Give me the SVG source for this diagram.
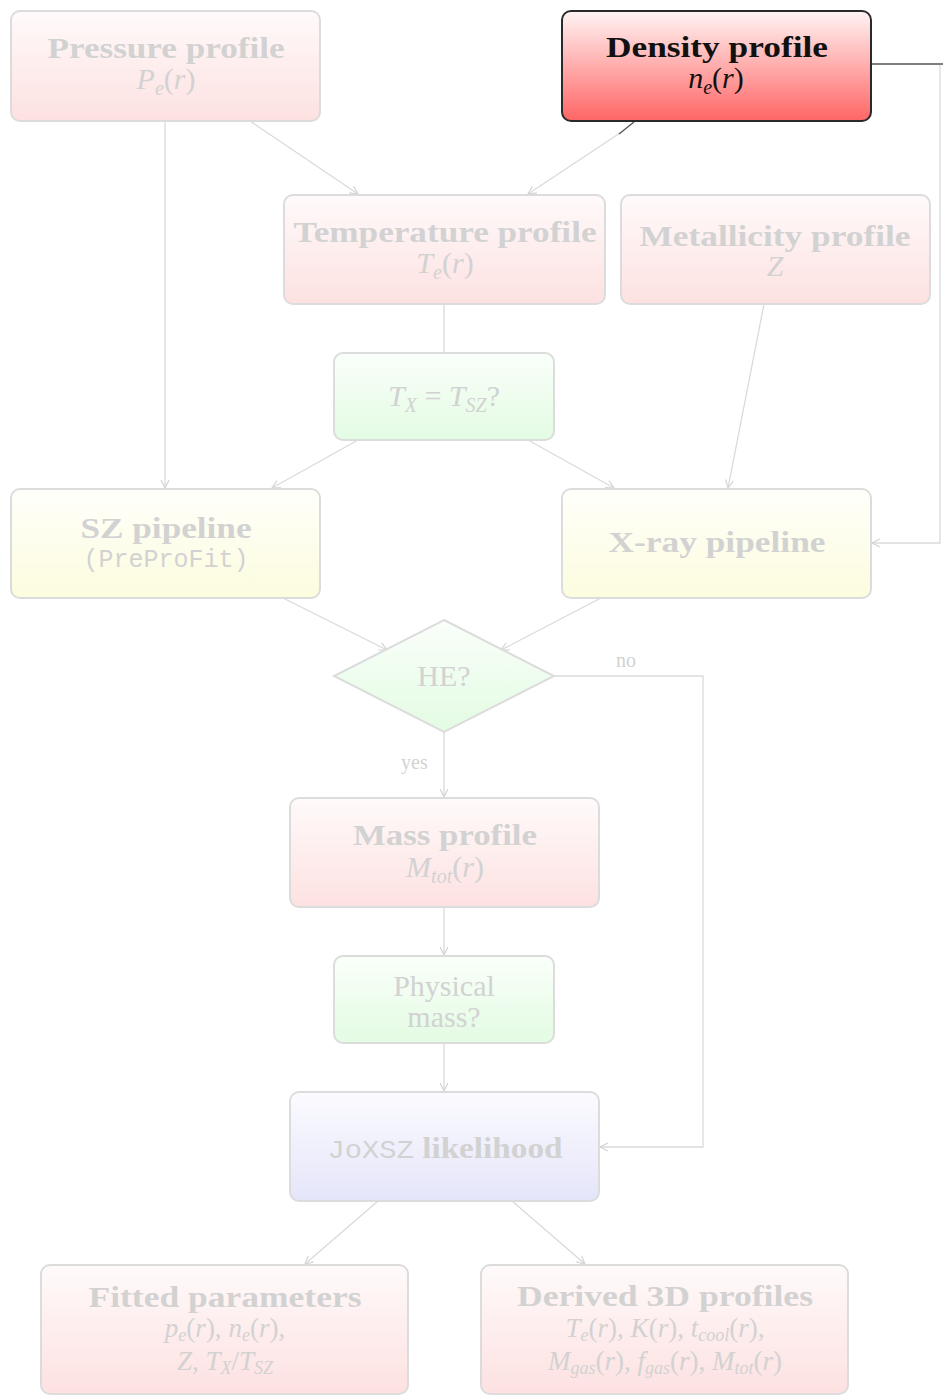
<svg xmlns="http://www.w3.org/2000/svg" width="943" height="1396" viewBox="0 0 943 1396">
<defs>
<linearGradient id="gRed" x1="0" y1="0" x2="0" y2="1"><stop offset="0" stop-color="#fffafa"/><stop offset="1" stop-color="#fde1e1"/></linearGradient>
<linearGradient id="gRedHi" x1="0" y1="0" x2="0" y2="1"><stop offset="0" stop-color="#fff4f4"/><stop offset="1" stop-color="#ff6565"/></linearGradient>
<linearGradient id="gGreen" x1="0" y1="0" x2="0" y2="1"><stop offset="0" stop-color="#fafffa"/><stop offset="1" stop-color="#e3fbe3"/></linearGradient>
<linearGradient id="gYellow" x1="0" y1="0" x2="0" y2="1"><stop offset="0" stop-color="#fffffb"/><stop offset="1" stop-color="#fcfcde"/></linearGradient>
<linearGradient id="gBlue" x1="0" y1="0" x2="0" y2="1"><stop offset="0" stop-color="#fbfbff"/><stop offset="1" stop-color="#e5e5fa"/></linearGradient>
<marker id="arr" viewBox="0 0 10 10" refX="9" refY="5" markerWidth="10" markerHeight="10" markerUnits="userSpaceOnUse" orient="auto">
<path d="M1,1 L9,5 L1,9" fill="none" stroke="#d4d4d4" stroke-width="1.2"/>
</marker>
</defs>
<style>
.box{stroke:#dcdcdc;stroke-width:2}
.hi{stroke:#2a2a2a;stroke-width:2}
.t{font-family:"Liberation Serif","DejaVu Serif",serif;font-weight:bold;font-size:30px;fill:#d2d2d2;text-anchor:middle}
.m{font-family:"Liberation Serif","DejaVu Serif",serif;font-style:italic;font-size:30px;fill:#d2d2d2;text-anchor:middle}
.m2{font-family:"Liberation Serif","DejaVu Serif",serif;font-style:italic;font-size:27px;fill:#d2d2d2;text-anchor:middle}
.r{font-family:"Liberation Serif","DejaVu Serif",serif;font-size:30px;fill:#d2d2d2;text-anchor:middle}
.pp{font-family:"Liberation Mono","DejaVu Sans Mono",monospace;font-size:25px;fill:#d2d2d2;text-anchor:middle}
.mono{font-family:"Liberation Mono","DejaVu Sans Mono",monospace;font-weight:normal}
.lbl{font-family:"Liberation Serif","DejaVu Serif",serif;font-size:20px;fill:#d2d2d2}
.dark{fill:#111111}
.c{fill:none;stroke:#dadada;stroke-width:1.3}
.up{font-style:normal}
</style>
<rect width="943" height="1396" fill="#ffffff"/>
<g id="connectors">
<line class="c" x1="165" y1="121" x2="165" y2="488" marker-end="url(#arr)"/>
<line class="c" x1="250" y1="121" x2="358" y2="194" marker-end="url(#arr)"/>
<line class="c" x1="620" y1="133" x2="528" y2="194" marker-end="url(#arr)"/>
<line x1="634" y1="122" x2="619" y2="134" stroke="#555" stroke-width="1.5"/>
<line class="c" x1="444" y1="304" x2="444" y2="353"/>
<line class="c" x1="764" y1="304" x2="728" y2="488" marker-end="url(#arr)"/>
<line class="c" x1="358" y1="440" x2="272" y2="488" marker-end="url(#arr)"/>
<line class="c" x1="528" y1="440" x2="614" y2="488" marker-end="url(#arr)"/>
<line x1="871" y1="64" x2="943" y2="64" stroke="#555" stroke-width="1.5"/>
<polyline class="c" points="940,65 940,543 872,543" marker-end="url(#arr)"/>
<line class="c" x1="283" y1="598" x2="387" y2="650" marker-end="url(#arr)"/>
<line class="c" x1="601" y1="598" x2="501" y2="650" marker-end="url(#arr)"/>
<polyline class="c" points="554,676 703,676 703,1147 600,1147" marker-end="url(#arr)"/>
<line class="c" x1="444" y1="732" x2="444" y2="797" marker-end="url(#arr)"/>
<line class="c" x1="444" y1="907" x2="444" y2="955" marker-end="url(#arr)"/>
<line class="c" x1="444" y1="1043" x2="444" y2="1091" marker-end="url(#arr)"/>
<line class="c" x1="378" y1="1201" x2="305" y2="1264" marker-end="url(#arr)"/>
<line class="c" x1="512" y1="1201" x2="585" y2="1264" marker-end="url(#arr)"/>
<text class="lbl" x="616" y="667">no</text>
<text class="lbl" x="401" y="769">yes</text>
</g>
<g id="pressure">
<rect class="box" x="11" y="11" width="309" height="110" rx="9" fill="url(#gRed)"/>
<text class="t" x="166" y="58" textLength="237" lengthAdjust="spacingAndGlyphs">Pressure profile</text>
<text class="m" x="166" y="89">P<tspan font-size="20" dy="6">e</tspan><tspan class="up" dy="-6">(</tspan>r<tspan class="up">)</tspan></text>
</g>
<g id="density">
<rect class="hi" x="562" y="11" width="309" height="110" rx="9" fill="url(#gRedHi)"/>
<text class="t dark" x="717" y="57" textLength="222" lengthAdjust="spacingAndGlyphs">Density profile</text>
<text class="m dark" x="716" y="88">n<tspan font-size="20" dy="6">e</tspan><tspan class="up" dy="-6">(</tspan>r<tspan class="up">)</tspan></text>
</g>
<g id="temperature">
<rect class="box" x="284" y="195" width="321" height="109" rx="9" fill="url(#gRed)"/>
<text class="t" x="445" y="242" textLength="303" lengthAdjust="spacingAndGlyphs">Temperature profile</text>
<text class="m" x="445" y="273">T<tspan font-size="20" dy="6">e</tspan><tspan class="up" dy="-6">(</tspan>r<tspan class="up">)</tspan></text>
</g>
<g id="metallicity">
<rect class="box" x="621" y="195" width="309" height="109" rx="9" fill="url(#gRed)"/>
<text class="t" x="775" y="246" textLength="271" lengthAdjust="spacingAndGlyphs">Metallicity profile</text>
<text class="m" x="775" y="276">Z</text>
</g>
<g id="txtsz">
<rect class="box" x="334" y="353" width="220" height="87" rx="9" fill="url(#gGreen)"/>
<text class="m" x="444" y="406">T<tspan font-size="20" dy="6">X</tspan><tspan class="up" dy="-6"> = </tspan>T<tspan font-size="20" dy="6">SZ</tspan><tspan class="up" dy="-6">?</tspan></text>
</g>
<g id="sz">
<rect class="box" x="11" y="489" width="309" height="109" rx="9" fill="url(#gYellow)"/>
<text class="t" x="166" y="538" textLength="171" lengthAdjust="spacingAndGlyphs">SZ pipeline</text>
<text class="pp" x="166" y="567">(PreProFit)</text>
</g>
<g id="xray">
<rect class="box" x="562" y="489" width="309" height="109" rx="9" fill="url(#gYellow)"/>
<text class="t" x="717" y="552" textLength="217" lengthAdjust="spacingAndGlyphs">X-ray pipeline</text>
</g>
<g id="he">
<polygon class="box" points="444,620 554,676 444,732 334,676" fill="url(#gGreen)"/>
<text class="r" x="444" y="686">HE?</text>
</g>
<g id="mass">
<rect class="box" x="290" y="798" width="309" height="109" rx="9" fill="url(#gRed)"/>
<text class="t" x="445" y="845" textLength="184" lengthAdjust="spacingAndGlyphs">Mass profile</text>
<text class="m" x="445" y="877">M<tspan font-size="20" dy="6">tot</tspan><tspan class="up" dy="-6">(</tspan>r<tspan class="up">)</tspan></text>
</g>
<g id="physical">
<rect class="box" x="334" y="956" width="220" height="87" rx="9" fill="url(#gGreen)"/>
<text class="r" x="444" y="996">Physical</text>
<text class="r" x="444" y="1027">mass?</text>
</g>
<g id="joxsz">
<rect class="box" x="290" y="1092" width="309" height="109" rx="9" fill="url(#gBlue)"/>
<text class="t" x="445" y="1158" textLength="235" lengthAdjust="spacingAndGlyphs"><tspan class="mono" font-size="26">JoXSZ</tspan> likelihood</text>
</g>
<g id="fitted">
<rect class="box" x="41" y="1265" width="367" height="129" rx="9" fill="url(#gRed)"/>
<text class="t" x="225" y="1307" textLength="273" lengthAdjust="spacingAndGlyphs">Fitted parameters</text>
<text class="m2" x="225" y="1337">p<tspan font-size="18" dy="4">e</tspan><tspan class="up" dy="-4">(</tspan>r<tspan class="up">), </tspan>n<tspan font-size="18" dy="4">e</tspan><tspan class="up" dy="-4">(</tspan>r<tspan class="up">),</tspan></text>
<text class="m2" x="225" y="1370">Z<tspan class="up">, </tspan>T<tspan font-size="18" dy="4">X</tspan><tspan class="up" dy="-4">/</tspan>T<tspan font-size="18" dy="4">SZ</tspan></text>
</g>
<g id="derived">
<rect class="box" x="481" y="1265" width="367" height="129" rx="9" fill="url(#gRed)"/>
<text class="t" x="665" y="1306" textLength="296" lengthAdjust="spacingAndGlyphs">Derived 3D profiles</text>
<text class="m2" x="665" y="1337">T<tspan font-size="18" dy="4">e</tspan><tspan class="up" dy="-4">(</tspan>r<tspan class="up">), </tspan>K<tspan class="up">(</tspan>r<tspan class="up">), </tspan>t<tspan font-size="18" dy="4">cool</tspan><tspan class="up" dy="-4">(</tspan>r<tspan class="up">),</tspan></text>
<text class="m2" x="665" y="1370">M<tspan font-size="18" dy="4">gas</tspan><tspan class="up" dy="-4">(</tspan>r<tspan class="up">), </tspan>f<tspan font-size="18" dy="4">gas</tspan><tspan class="up" dy="-4">(</tspan>r<tspan class="up">), </tspan>M<tspan font-size="18" dy="4">tot</tspan><tspan class="up" dy="-4">(</tspan>r<tspan class="up">)</tspan></text>
</g>
</svg>
